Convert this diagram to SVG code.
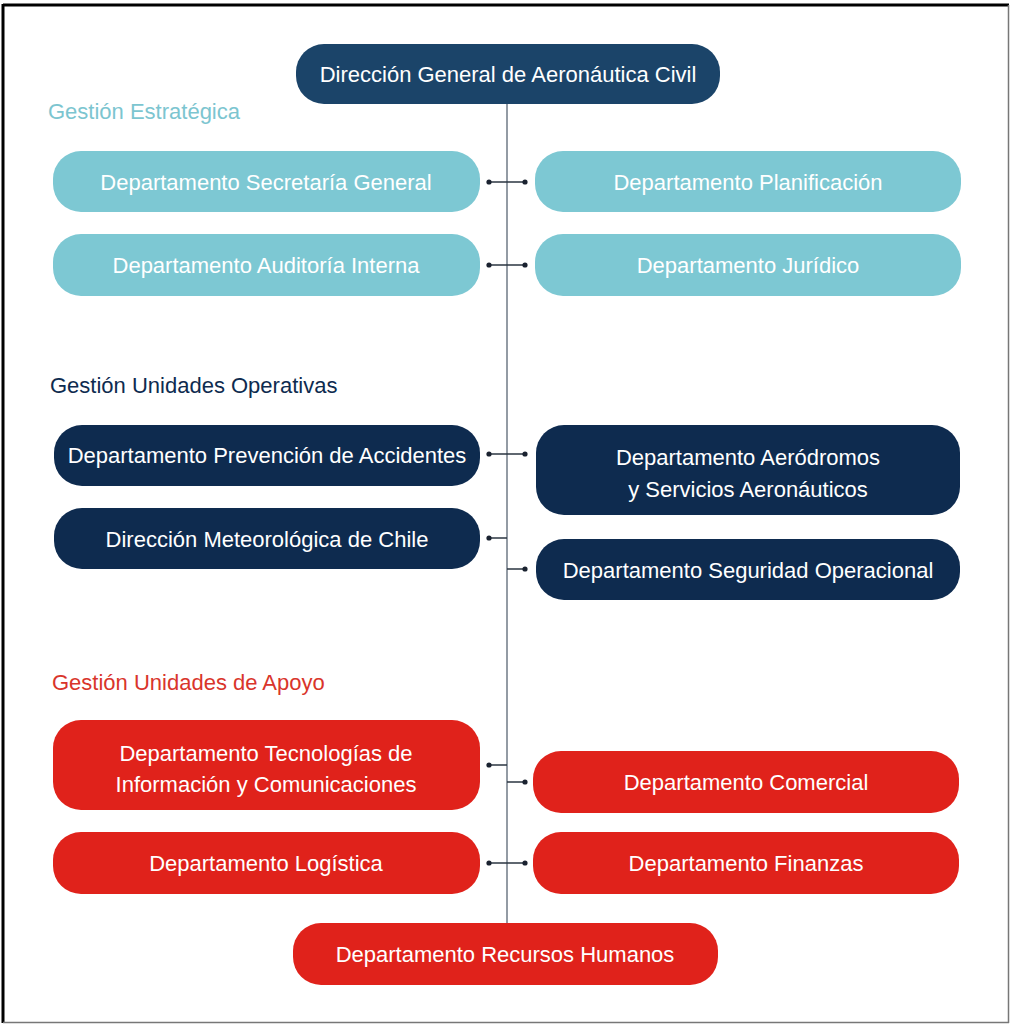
<svg xmlns="http://www.w3.org/2000/svg" width="1010" height="1025" viewBox="0 0 1010 1025">
<style>
  text { font-family: "Liberation Sans", Arial, sans-serif; }
  .lbl { font-size: 22px; fill: #ffffff; text-anchor: middle; }
  .sec { font-size: 22px; }
  .teal { fill: #7dc8d3; }
  .navy { fill: #0e2b4f; }
  .top { fill: #1b4469; }
  .red { fill: #e0221b; }
  .wire { stroke: #6f7a86; stroke-width: 1.5; fill: none; }
  .tie { stroke: #2a3440; stroke-width: 1.5; fill: none; }
  .dot { fill: #1a2230; }
</style>
<rect x="0" y="0" width="1010" height="1025" fill="#ffffff"/>
<g id="frame">
  <line x1="3" y1="5" x2="1009" y2="5" stroke="#000" stroke-width="3"/>
  <line x1="3" y1="4" x2="3" y2="1023" stroke="#000" stroke-width="3"/>
  <line x1="1008.5" y1="5" x2="1008.5" y2="1023" stroke="#777" stroke-width="1.5"/>
  <line x1="3" y1="1022.5" x2="1009" y2="1022.5" stroke="#777" stroke-width="1.5"/>
</g>
<g id="connectors">
  <line class="wire" x1="507" y1="104" x2="507" y2="923"/>
  <line class="tie" x1="489" y1="182" x2="525" y2="182"/>
  <circle class="dot" cx="489" cy="182" r="2.6"/><circle class="dot" cx="525" cy="182" r="2.6"/>
  <line class="tie" x1="489" y1="265" x2="525" y2="265"/>
  <circle class="dot" cx="489" cy="265" r="2.6"/><circle class="dot" cx="525" cy="265" r="2.6"/>
  <line class="tie" x1="489" y1="454" x2="525" y2="454"/>
  <circle class="dot" cx="489" cy="454" r="2.6"/><circle class="dot" cx="525" cy="454" r="2.6"/>
  <line class="tie" x1="489" y1="538" x2="507" y2="538"/>
  <circle class="dot" cx="489" cy="538" r="2.6"/>
  <line class="tie" x1="507" y1="569" x2="525" y2="569"/>
  <circle class="dot" cx="525" cy="569" r="2.6"/>
  <line class="tie" x1="489" y1="765" x2="507" y2="765"/>
  <circle class="dot" cx="489" cy="765" r="2.6"/>
  <line class="tie" x1="507" y1="782" x2="525" y2="782"/>
  <circle class="dot" cx="525" cy="782" r="2.6"/>
  <line class="tie" x1="489" y1="863" x2="525" y2="863"/>
  <circle class="dot" cx="489" cy="863" r="2.6"/><circle class="dot" cx="525" cy="863" r="2.6"/>
</g>
<g id="sections">
  <text class="sec" x="48" y="119" fill="#7cc5d0">Gestión Estratégica</text>
  <text class="sec" x="50" y="393" fill="#0e2b4f">Gestión Unidades Operativas</text>
  <text class="sec" x="52" y="690" fill="#d9352b">Gestión Unidades de Apoyo</text>
</g>
<g id="n-dgac">
  <rect class="top" x="296" y="44" width="424" height="60" rx="28"/>
  <text class="lbl" x="508" y="82">Dirección General de Aeronáutica Civil</text>
</g>
<g id="n-secretaria">
  <rect class="teal" x="53" y="151" width="427" height="61" rx="28"/>
  <text class="lbl" x="266" y="190">Departamento Secretaría General</text>
</g>
<g id="n-planificacion">
  <rect class="teal" x="535" y="151" width="426" height="61" rx="28"/>
  <text class="lbl" x="748" y="190">Departamento Planificación</text>
</g>
<g id="n-auditoria">
  <rect class="teal" x="53" y="234" width="427" height="62" rx="28"/>
  <text class="lbl" x="266" y="273">Departamento Auditoría Interna</text>
</g>
<g id="n-juridico">
  <rect class="teal" x="535" y="234" width="426" height="62" rx="28"/>
  <text class="lbl" x="748" y="273">Departamento Jurídico</text>
</g>
<g id="n-prevencion">
  <rect class="navy" x="54" y="425" width="426" height="61" rx="28"/>
  <text class="lbl" x="267" y="463">Departamento Prevención de Accidentes</text>
</g>
<g id="n-aerodromos">
  <rect class="navy" x="536" y="425" width="424" height="90" rx="28"/>
  <text class="lbl" x="748" y="465">Departamento Aeródromos</text>
  <text class="lbl" x="748" y="497">y Servicios Aeronáuticos</text>
</g>
<g id="n-meteorologica">
  <rect class="navy" x="54" y="508" width="426" height="61" rx="28"/>
  <text class="lbl" x="267" y="547">Dirección Meteorológica de Chile</text>
</g>
<g id="n-seguridad">
  <rect class="navy" x="536" y="539" width="424" height="61" rx="28"/>
  <text class="lbl" x="748" y="578">Departamento Seguridad Operacional</text>
</g>
<g id="n-tecnologias">
  <rect class="red" x="53" y="720" width="427" height="90" rx="28"/>
  <text class="lbl" x="266" y="761">Departamento Tecnologías de</text>
  <text class="lbl" x="266" y="792">Información y Comunicaciones</text>
</g>
<g id="n-comercial">
  <rect class="red" x="533" y="751" width="426" height="62" rx="28"/>
  <text class="lbl" x="746" y="790">Departamento Comercial</text>
</g>
<g id="n-logistica">
  <rect class="red" x="53" y="832" width="427" height="62" rx="28"/>
  <text class="lbl" x="266" y="871">Departamento Logística</text>
</g>
<g id="n-finanzas">
  <rect class="red" x="533" y="832" width="426" height="62" rx="28"/>
  <text class="lbl" x="746" y="871">Departamento Finanzas</text>
</g>
<g id="n-rrhh">
  <rect class="red" x="293" y="923" width="425" height="62" rx="28"/>
  <text class="lbl" x="505" y="962">Departamento Recursos Humanos</text>
</g>
</svg>
